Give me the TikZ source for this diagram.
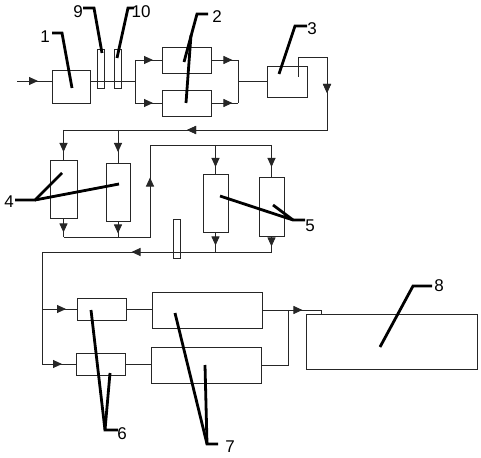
\documentclass[tikz,border=0pt]{standalone}
\usepackage{fontspec}
\setmainfont{Liberation Sans}
\usetikzlibrary{arrows.meta,decorations.markings}
\tikzset{
  x=1pt,y=-1pt,
  pipe/.style={line width=0.9pt,draw=black!85},
  box/.style={draw=black!85,line width=0.9pt,rectangle,inner sep=0pt,minimum width=#1},
  lead/.style={line width=2.8pt,line join=miter,line cap=butt},
  lbl/.style={font=\fontsize{17}{17}\selectfont,inner sep=0pt},
  arrowat/.style={postaction={decorate},decoration={markings,mark=at position #1 with {\arrow{Triangle[length=9pt,width=8pt]}}}},
}
\begin{document}
\begin{tikzpicture}
\useasboundingbox (0,0) rectangle (481,457);
% boxes
\node[box=38pt,minimum height=33pt] (b1) at (71,86.5) {};
\node[box=7pt,minimum height=39pt] (c9) at (100.5,68.5) {};
\node[box=7pt,minimum height=39pt] (c10) at (117.5,68.5) {};
\node[box=49pt,minimum height=26pt] (b2a) at (186.5,60) {};
\node[box=49pt,minimum height=26pt] (b2b) at (186.5,103) {};
\node[box=40pt,minimum height=31pt] (b3) at (287,81.5) {};
\node[box=27pt,minimum height=58pt] (c4a) at (63.5,189) {};
\node[box=24pt,minimum height=58pt] (c4b) at (118,192) {};
\node[box=25pt,minimum height=58pt] (c5a) at (215.5,203) {};
\node[box=25pt,minimum height=59pt] (c5b) at (271.5,206.5) {};
\node[box=7pt,minimum height=39pt] (c11) at (176.5,238.5) {};
\node[box=49pt,minimum height=22pt] (b6a) at (101.5,309) {};
\node[box=49pt,minimum height=22pt] (b6b) at (100.5,364) {};
\node[box=110pt,minimum height=36pt] (b7a) at (207,310) {};
\node[box=110pt,minimum height=36pt] (b7b) at (206,365) {};
\node[box=171pt,minimum height=55pt] (b8) at (391.5,341.5) {};
% junction coordinates
\coordinate (in) at (17,81);
\coordinate (s1) at (135,81);
\coordinate (s1a) at (135,60);
\coordinate (s1b) at (135,103);
\coordinate (m1) at (238,81);
\coordinate (m1a) at (238,60);
\coordinate (m1b) at (238,103);
\coordinate (p1) at (298,77);
\coordinate (p2) at (298,57);
\coordinate (p3) at (327,57);
\coordinate (p4) at (327,130);
\coordinate (t4a) at (63.5,130);
\coordinate (t4b) at (118,130);
\coordinate (u4a) at (63.5,237);
\coordinate (u4b) at (118,237);
\coordinate (r1) at (150,237);
\coordinate (r2) at (150,145);
\coordinate (t5a) at (215.5,145);
\coordinate (t5b) at (271.5,145);
\coordinate (u5a) at (215.5,252);
\coordinate (u5b) at (271.5,252);
\coordinate (l1) at (42,252);
\coordinate (l2) at (42,309);
\coordinate (l3) at (42,364);
\coordinate (g1) at (288,310);
\coordinate (g2) at (288,365);
\coordinate (g3) at (321,310);
% first row
\draw[pipe,arrowat=21pt] (in) -- (in -| b1.west);
\draw[pipe] (in -| b1.east) -- (s1);
\draw[pipe] (s1a) -- (s1b);
\draw[pipe,arrowat=18pt] (s1a) -- (b2a.west);
\draw[pipe,arrowat=18pt] (s1b) -- (b2b.west);
\draw[pipe,arrowat=21pt] (b2a.east) -- (m1a);
\draw[pipe,arrowat=21pt] (b2b.east) -- (m1b);
\draw[pipe] (m1a) -- (m1b);
\draw[pipe] (m1) -- (m1 -| b3.west);
\draw[pipe,arrowat=85pt,arrowat=262pt] (p1) -- (p2) -- (p3) -- (p4) -- (t4a);
% second row
\draw[pipe,arrowat=22pt] (t4a) -- (c4a.north);
\draw[pipe,arrowat=22pt] (t4b) -- (c4b.north);
\draw[pipe,arrowat=14pt] (c4a.south) -- (u4a);
\draw[pipe,arrowat=12pt] (c4b.south) -- (u4b);
\draw[pipe,arrowat=146pt] (u4a) -- (r1) -- (r2) -- (t5b);
\draw[pipe,arrowat=22pt] (t5a) -- (c5a.north);
\draw[pipe,arrowat=22pt] (t5b) -- (c5b.north);
\draw[pipe,arrowat=13pt] (c5a.south) -- (u5a);
\draw[pipe,arrowat=10pt] (c5b.south) -- (u5b);
\draw[pipe,arrowat=140pt] (u5b) -- (l1) -- (l3);
% third row
\draw[pipe,arrowat=24pt] (l2) -- (b6a.west);
\draw[pipe,arrowat=20pt] (l3) -- (b6b.west);
\draw[pipe] (b6a.east) -- (b6a.east -| b7a.west);
\draw[pipe] (b6b.east) -- (b6b.east -| b7b.west);
\draw[pipe,arrowat=40pt] (b7a.east) -- (g3) -- (g3 |- b8.north);
\draw[pipe] (b7b.east) -- (g2) -- (g1);
% leaders
\draw[lead] (52,33) -- (62,33) -- (72,88);
\draw[lead] (83,8) -- (94,8) -- (102,53);
\draw[lead] (117,58) -- (128,8) -- (134,8);
\draw[lead] (208,14) -- (197,14) -- (184,62);
\draw[lead] (191,35) -- (186,103);
\draw[lead] (307,26) -- (295,26) -- (279,74);
\draw[lead] (15,200) -- (35,200) -- (62,173);
\draw[lead] (35,200) -- (119,184);
\draw[lead] (305,220) -- (293,220) -- (220,196);
\draw[lead] (293,220) -- (273,205);
\draw[lead] (118,430) -- (105,430) -- (91,310);
\draw[lead] (105,430) -- (110,373);
\draw[lead] (218,444) -- (207,444) -- (175,313);
\draw[lead] (207,444) -- (205,365);
\draw[lead] (432,286) -- (413,286) -- (380,347);
% labels
\node[lbl] (n1) at (45,37) {1};
\node[lbl] (n9) at (78,12) {9};
\node[lbl] (n10) at (141,12) {10};
\node[lbl] (n2) at (217,17) {2};
\node[lbl] (n3) at (312,29) {3};
\node[lbl] (n4) at (9,202) {4};
\node[lbl] (n5) at (310,226) {5};
\node[lbl] (n6) at (122,434) {6};
\node[lbl] (n7) at (230,447) {7};
\node[lbl] (n8) at (439,286) {8};
\end{tikzpicture}
\end{document}
